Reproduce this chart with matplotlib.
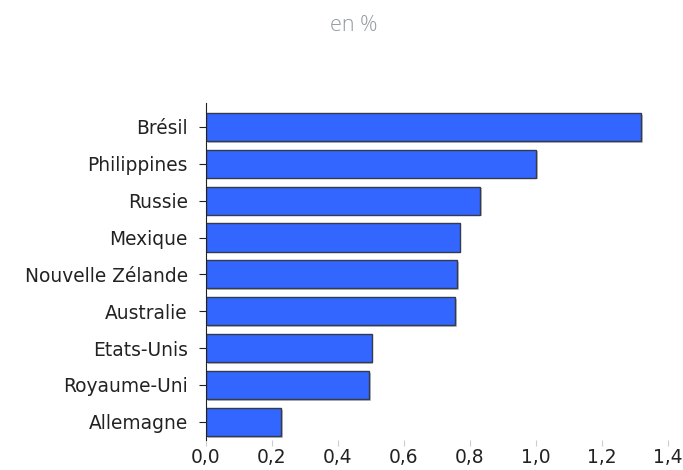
import matplotlib
matplotlib.use("Agg")
import matplotlib.pyplot as plt
import matplotlib.patheffects as pe

pays = ["Brésil", "Philippines", "Russie", "Mexique", "Nouvelle Zélande",
        "Australie", "Etats-Unis", "Royaume-Uni", "Allemagne"]
valeurs = [1.318, 1.0, 0.83, 0.769, 0.761, 0.755, 0.502, 0.495, 0.227]
xticks = [0.0, 0.2, 0.4, 0.6, 0.8, 1.0, 1.2, 1.4]
xtick_labels = ["0,0", "0,2", "0,4", "0,6", "0,8", "1,0", "1,2", "1,4"]

plt.rcParams['font.family'] = ['DejaVu Sans']

fig = plt.figure(figsize=(6.83, 4.70), dpi=100)
ax = fig.add_axes([0.3016, 0.064, 0.6764, 0.717])

pos = list(range(len(pays)))[::-1]
bars = ax.barh(pos, valeurs, height=0.76, color="#3366ff",
               edgecolor="#333a4a", linewidth=1.0)
for b in bars:
    b.set_path_effects([pe.SimplePatchShadow(offset=(1.2, -1.2), shadow_rgbFace="#999999", alpha=0.6),
                        pe.Normal()])

ax.set_xlim(0, 1.4)
ax.set_ylim(-0.49, 8.65)
ax.set_yticks(pos)
ax.set_yticklabels(pays, fontsize=13.4, color="#222222")
ax.set_xticks(xticks)
ax.set_xticklabels(xtick_labels, fontsize=13.4, color="#222222")

for s in ["top", "right", "bottom"]:
    ax.spines[s].set_visible(False)
ax.spines["left"].set_color("#222222")
ax.tick_params(axis="y", length=5, color="#222222", pad=8)
ax.tick_params(axis="x", length=4, color="#cccccc", pad=2)

fig.text(0.518, 0.945, "en %", ha="center", va="center", fontsize=15.5,
         color="#959ba3", family=["Open Sans", "DejaVu Sans"], fontweight="light")

fig.savefig("out.png", dpi=100)
